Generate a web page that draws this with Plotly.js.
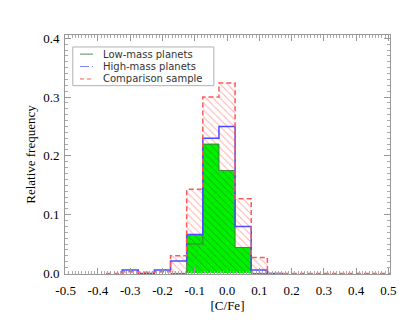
<!DOCTYPE html>
<html>
<head>
<meta charset="utf-8">
<script src="https://cdn.plot.ly/plotly-3.0.1.min.js"></script>
<style>
  body { margin: 0; background: #fff; }
  #cfe { width: 419px; height: 324px; }
</style>
</head>
<body>
<div id="cfe"></div>
<script>
// bin width of the [C/Fe] histograms
var binW = 0.05;

// comparison sample (red dashed, pink hatch)
var compX = [-0.35, -0.3, -0.25, -0.2, -0.15, -0.1, -0.05, 0.0, 0.05, 0.1, 0.15, 0.2, 0.25, 0.3, 0.35, 0.4, 0.45, 0.5];
var compY = [0.0, 0.003, 0.002, 0.003, 0.030, 0.143, 0.300, 0.324, 0.127, 0.027, 0.0, 0.0, 0.0, 0.0, 0.0, 0.0, 0.0, 0.0];

// high-mass planets (blue outline)
var highX = [-0.3, -0.25, -0.2, -0.15, -0.1, -0.05, 0.0, 0.05, 0.1, 0.15];
var highY = [0.006, 0.0, 0.006, 0.021, 0.066, 0.230, 0.250, 0.080, 0.006, 0.0];

// low-mass planets (dark green outline)
var lowX = [-0.15, -0.1, -0.05, 0.0, 0.05, 0.1];
var lowY = [0.0, 0.050, 0.220, 0.175, 0.044, 0.0];

// solid green fill
var fillX = [-0.1, -0.05, 0.0, 0.05];
var fillY = [0.066, 0.220, 0.175, 0.044];

var xTicks = [-0.5, -0.4, -0.3, -0.2, -0.1, 0.0, 0.1, 0.2, 0.3, 0.4, 0.5];
var xTickText = ['-0.5', '-0.4', '-0.3', '-0.2', '-0.1', '0.0', '0.1', '0.2', '0.3', '0.4', '0.5'];
var yTicks = [0.0, 0.1, 0.2, 0.3, 0.4];
var yTickText = ['0.0', '0.1', '0.2', '0.3', '0.4'];

// legend
var legNames = ['Low-mass planets', 'High-mass planets', 'Comparison sample'];
var legColors = ['#4f8f4f', '#8080ff', '#ff5a5a'];
var legDash = ['solid', 'dashdot', '4px,3px'];

// outline of a histogram as an hv step line, closed down to zero at both ends
function steps(xs, ys) {
	var sx = [xs[0] - binW / 2], sy = [0];
	for (var i = 0; i < xs.length; i++) {
		sx.push(xs[i] - binW / 2);
		sy.push(ys[i]);
	}
	sx.push(xs[xs.length - 1] + binW / 2);
	sy.push(0);
	return {x: sx, y: sy};
}

var cs = steps(compX, compY);
var hs = steps(highX, highY);
var ls = steps(lowX, lowY);

var data = [
	{x: compX, y: compY, type: 'bar', width: binW, hoverinfo: 'skip',
	 marker: {color: 'rgba(0,0,0,0)', line: {width: 0},
	          pattern: {shape: '\\', fgcolor: '#ffb0b0', bgcolor: 'rgba(0,0,0,0)', size: 5, solidity: 0.2}}},
	{x: fillX, y: fillY, type: 'bar', width: binW, hoverinfo: 'skip',
	 marker: {color: '#00f000', line: {width: 0},
	          pattern: {shape: '\\', fgcolor: '#12a012', bgcolor: '#00f000', size: 5, solidity: 0.15}}},
	{x: ls.x, y: ls.y, type: 'scatter', mode: 'lines', name: legNames[0],
	 line: {shape: 'hv', color: '#3f7f3f', width: 1}},
	{x: hs.x, y: hs.y, type: 'scatter', mode: 'lines', name: legNames[1],
	 line: {shape: 'hv', color: '#4a4aff', width: 1.5}},
	{x: cs.x, y: cs.y, type: 'scatter', mode: 'lines', name: legNames[2],
	 line: {shape: 'hv', color: '#ff5a5a', width: 1.5, dash: '5px,3px'}}
];

// hand made legend box, rows are tighter than plotly's own legend allows
var shapes = [{type: 'rect', xref: 'paper', yref: 'paper', x0: 0.024, x1: 0.458, y0: 0.788, y1: 0.950,
               line: {color: '#b0b0b0', width: 1}, fillcolor: '#fff', layer: 'above'}];
var annotations = [];
var rowY = [0.920, 0.868, 0.816];
for (var i = 0; i < legNames.length; i++) {
	shapes.push({type: 'line', xref: 'paper', yref: 'paper', x0: 0.046, x1: 0.086, y0: rowY[i], y1: rowY[i],
	             line: {color: legColors[i], width: 1, dash: legDash[i]}, layer: 'above'});
	annotations.push({xref: 'paper', yref: 'paper', x: 0.115, y: rowY[i], xanchor: 'left', yanchor: 'middle',
	                  showarrow: false, text: legNames[i], borderpad: 0,
	                  font: {family: 'DejaVu Sans, sans-serif', size: 10, color: '#333'}});
}

var axisFont = {family: 'Liberation Serif, Times New Roman, serif', size: 13, color: '#000'};

var layout = {
	width: 419, height: 324,
	margin: {l: 65, r: 29, t: 35, b: 50},
	paper_bgcolor: '#fff', plot_bgcolor: '#fff',
	barmode: 'overlay', bargap: 0,
	showlegend: false,
	shapes: shapes,
	annotations: annotations,
	xaxis: {range: [-0.502, 0.505], tickvals: xTicks, ticktext: xTickText,
	        ticks: 'inside', ticklen: 6, tickcolor: '#999', tickwidth: 1,
	        minor: {dtick: 0.01, ticks: 'inside', ticklen: 3, tickcolor: '#aaa'},
	        showline: true, linecolor: '#999', linewidth: 1, mirror: 'allticks',
	        showgrid: false, zeroline: false, tickfont: axisFont, ticklabelstandoff: 4,
	        title: {text: '[C/Fe]', font: axisFont, standoff: 1}},
	yaxis: {range: [-0.001, 0.4056], tickvals: yTicks, ticktext: yTickText,
	        ticks: 'inside', ticklen: 6, tickcolor: '#999', tickwidth: 1,
	        minor: {dtick: 0.01, ticks: 'inside', ticklen: 3, tickcolor: '#aaa'},
	        showline: true, linecolor: '#999', linewidth: 1, mirror: 'allticks',
	        showgrid: false, zeroline: false, tickfont: axisFont, ticklabelstandoff: 2,
	        title: {text: 'Relative frequency', font: axisFont, standoff: 4}}
};

Plotly.newPlot('cfe', data, layout, {displayModeBar: false, staticPlot: true});
</script>
</body>
</html>
